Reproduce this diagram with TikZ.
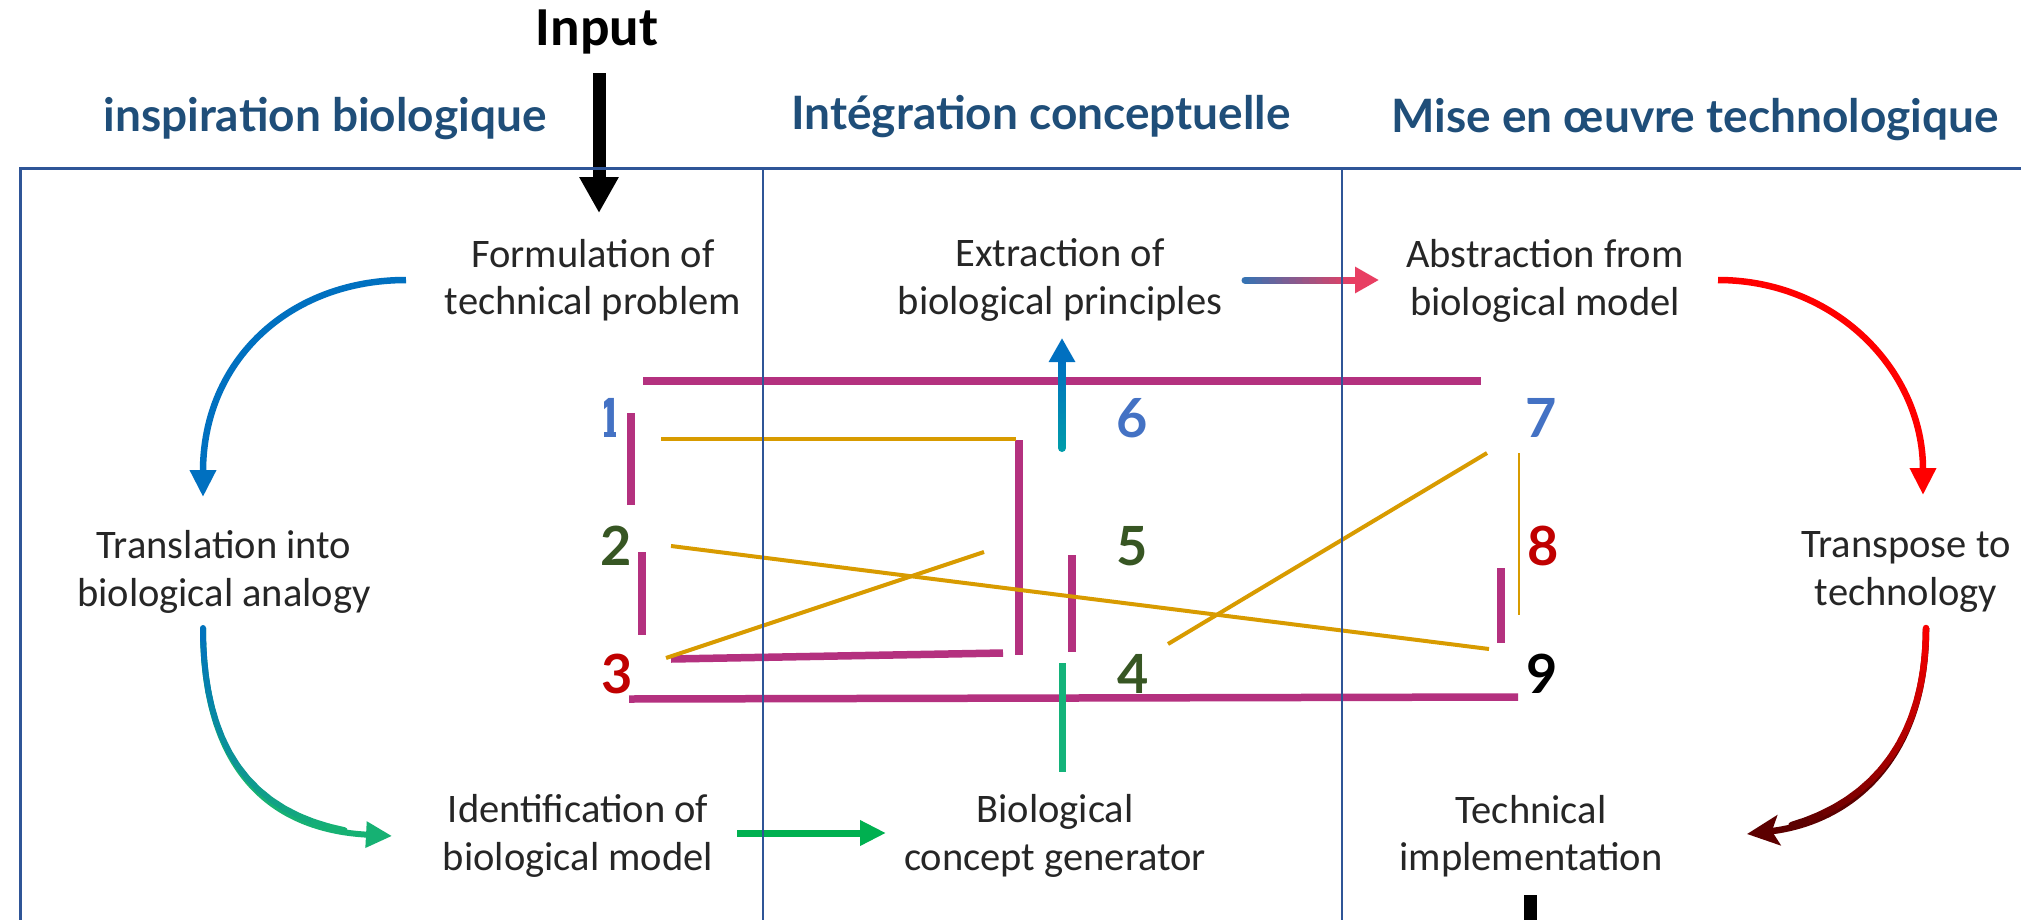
\documentclass[tikz,border=0pt]{standalone}
\usepackage{fontspec}
\setmainfont{Carlito}
\newfontfamily\headfont{Lato}
\usetikzlibrary{arrows.meta,decorations.markings}

\definecolor{frameblue}{HTML}{2F5597}
\definecolor{headblue}{HTML}{1F4E79}
\definecolor{magen}{HTML}{B4317F}
\definecolor{orng}{HTML}{D89B00}
\definecolor{numblue}{HTML}{4472C4}
\definecolor{numgreen}{HTML}{375623}
\definecolor{numred}{HTML}{C00000}
\definecolor{txtgray}{HTML}{262626}
\definecolor{arrblue}{HTML}{0070C0}
\definecolor{arrgreen}{HTML}{16B173}
\definecolor{flatgreen}{HTML}{00B050}
\definecolor{vgreen}{HTML}{14B37A}
\definecolor{arrred}{HTML}{FF0000}
\definecolor{arrdark}{HTML}{5C0000}
\definecolor{gpink}{HTML}{E83E62}
\definecolor{gblue}{HTML}{2E75B6}
\definecolor{cyanA}{HTML}{009EAA}

% gradient curve: #1 start, #2 c1, #3 c2, #4 end, #5 colA, #6 colB, #7 width, #8 tip
\newcommand\gradcurve[8]{%
  \draw[#6, line width=#7, -{#8}] (#1) .. controls (#2) and (#3) .. (#4);
  \path[decoration={markings, mark=between positions 0 and 1 step 0.05 with
      {\coordinate (gp\pgfkeysvalueof{/pgf/decoration/mark info/sequence number});}},
      decorate] (#1) .. controls (#2) and (#3) .. (#4);
  \foreach \k [evaluate=\k as \kn using int(\k+1), evaluate=\k as \pc using int(\k*100/17)] in {1,...,17}
    \draw[#6!\pc!#5, line width=#7, line cap=round] (gp\k) -- (gp\kn);
}

\tikzset{
  body/.style={font=\fontsize{40.5}{47.5}\selectfont, text=txtgray, align=center, inner sep=0pt},
  head/.style={font=\headfont\bfseries\fontsize{46}{46}\selectfont, text=headblue, inner sep=0pt, anchor=base},
  num/.style={font=\headfont\bfseries\fontsize{54}{54}\selectfont, inner sep=0pt},
  mag/.style={draw=magen, line width=7.5pt},
  org/.style={draw=orng, line width=4pt},
  framel/.style={draw=frameblue, line width=2.5pt},
}

\begin{document}
\begin{tikzpicture}[x=1pt, y=-1pt]
\useasboundingbox[fill=white] (0,0) rectangle (2021,919);

% ---------- coordinates of line ends ----------
\coordinate (m1a) at (643,381);  \coordinate (m1b) at (1481,381);
\coordinate (m2a) at (631,413);  \coordinate (m2b) at (631,505);
\coordinate (m3a) at (642,552);  \coordinate (m3b) at (642,635);
\coordinate (m4a) at (671,659);  \coordinate (m4b) at (1003,653);
\coordinate (m5a) at (629,699);  \coordinate (m5b) at (1518,697);
\coordinate (m6a) at (1019,440); \coordinate (m6b) at (1019,655);
\coordinate (m7a) at (1072,555); \coordinate (m7b) at (1072,652);
\coordinate (m8a) at (1501,568); \coordinate (m8b) at (1501,643);

\coordinate (o1a) at (661,439);  \coordinate (o1b) at (1016,439);
\coordinate (o2a) at (671,546);  \coordinate (o2b) at (1489,649);
\coordinate (o3a) at (666,658);  \coordinate (o3b) at (984,552);
\coordinate (o4a) at (1487,453); \coordinate (o4b) at (1168,644);
\coordinate (o5a) at (1519,453); \coordinate (o5b) at (1519,615);

% ---------- magenta lines ----------
\draw[mag] (m1a) -- (m1b);
\draw[mag] (m2a) -- (m2b);
\draw[mag] (m3a) -- (m3b);
\draw[mag] (m4a) -- (m4b);
\draw[mag] (m5a) -- (m5b);
\draw[mag] (m6a) -- (m6b);
\draw[mag] (m7a) -- (m7b);
\draw[mag] (m8a) -- (m8b);

% ---------- orange lines ----------
\draw[org] (o1a) -- (o1b);
\draw[org] (o2a) -- (o2b);
\draw[org] (o3a) -- (o3b);
\draw[org] (o4a) -- (o4b);
\draw[orng, line width=2pt] (o5a) -- (o5b);

% ---------- arrows ----------
% Input arrow
\coordinate (inS) at (599,73); \coordinate (inE) at (599,213);
\draw[black, line width=13pt, -{Triangle[length=36pt,width=37pt]}] (inS) -- (inE);

% Formulation -> Translation (blue)
\coordinate (b1s) at (406,280); \coordinate (b1e) at (203,497);
\draw[arrblue, line width=6.5pt, -{Triangle[length=27pt,width=25pt]}]
  (b1s) .. controls (290,280) and (203,360) .. (b1e);

% Translation -> Identification (blue to green)
\gradcurve{203,628}{203,780}{280,830}{392,836}{arrblue}{arrgreen}{6pt}{Triangle[length=26pt,width=25pt]}

% Identification -> Biological concept generator (green)
\coordinate (g1s) at (737,833); \coordinate (g1e) at (886,833);
\draw[flatgreen, line width=7pt, -{Triangle[length=26pt,width=24pt]}] (g1s) -- (g1e);

% green vertical
\coordinate (gvA) at (1062,663); \coordinate (gvB) at (1062,772);
\draw[vgreen, line width=7pt] (gvA) -- (gvB);

% cyan up arrow to Extraction
\gradcurve{1062,448}{1062,410}{1062,380}{1062,338}{cyanA}{arrblue}{8pt}{Triangle[length=24pt,width=25pt]}

% Extraction -> Abstraction (blue to pink)
\gradcurve{1245,280}{1290,280}{1330,280}{1379,280}{gblue}{gpink}{7pt}{Triangle[length=24pt,width=25pt]}

% Abstraction -> Transpose (red)
\coordinate (r1s) at (1718,280); \coordinate (r1e) at (1923,495);
\draw[arrred, line width=6.5pt, -{Triangle[length=27pt,width=25pt]}]
  (r1s) .. controls (1835,280) and (1923,370) .. (r1e);

% Transpose -> Technical implementation (red to dark red)
\gradcurve{1926,628}{1926,760}{1850,822}{1747,834}{arrred}{arrdark}{6.5pt}{Stealth[length=32pt,width=30pt,inset=7pt]}

% output bar
\coordinate (outS) at (1530,895); \coordinate (outE) at (1530,935);
\draw[black, line width=13pt] (outS) -- (outE);

% ---------- frame ----------
\draw[framel, line width=3pt] (20,930) -- (20,168) -- (2030,168);
\draw[framel] (763,168) -- (763,930);
\draw[framel] (1342,168) -- (1342,930);

% ---------- headings ----------
\node[font=\bfseries\fontsize{55}{55}\selectfont, anchor=base, inner sep=0pt] (input) at (597,45) {Input};
\node[head] (h1) at (325,131) {inspiration biologique};
\node[head] (h2) at (1041,129) {Intégration conceptuelle};
\node[head] (h3) at (1695,132) {Mise en œuvre technologique};

% ---------- text nodes ----------
\node[body] (form)   at (593,280)  {Formulation of\\technical problem};
\node[body] (extr)   at (1060,280) {Extraction of\\biological principles};
\node[body] (abst)   at (1545,281) {Abstraction from\\biological model};
\node[body] (trans)  at (224,572)  {Translation into\\biological analogy};
\node[body] (transp) at (1906,572) {Transpose to\\technology};
\node[body] (ident)  at (578,836)  {Identification of\\biological model};
\node[body] (bioc)   at (1055,836) {Biological\\concept generator};
\node[body] (tech)   at (1531,836) {Technical\\implementation};

% ---------- numbers ----------
\begin{scope}
  \clip (604,396) rectangle (615,438);
  \node[num, text=numblue]  (n1) at (609,418)  {1};
\end{scope}
\node[num, text=numblue]  (n6) at (1132,418) {6};
\node[num, text=numblue]  (n7) at (1541,418) {7};
\node[num, text=numgreen] (n2) at (616,546)  {2};
\node[num, text=numgreen] (n5) at (1132,546) {5};
\node[num, text=numred]   (n8) at (1543,546) {8};
\node[num, text=numred]   (n3) at (617,674)  {3};
\node[num, text=numgreen] (n4) at (1133,674) {4};
\node[num, text=black]    (n9) at (1542,674) {9};
\end{tikzpicture}
\end{document}
